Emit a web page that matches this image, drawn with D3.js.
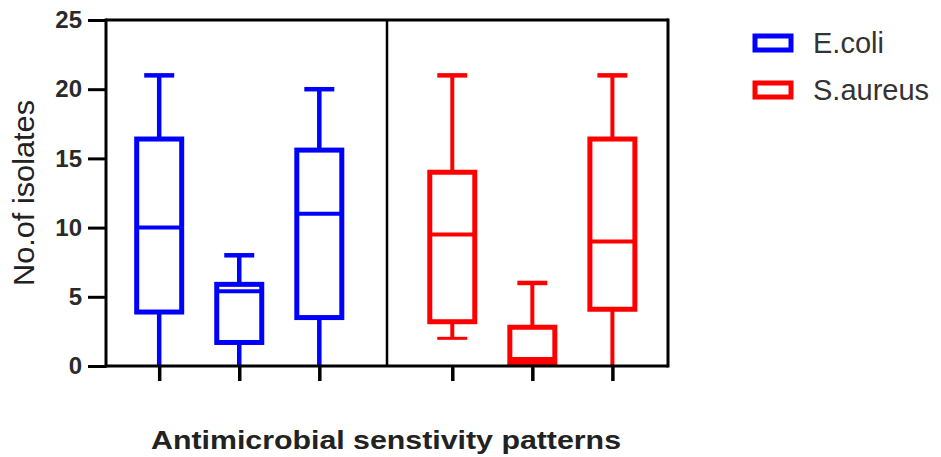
<!DOCTYPE html>
<html>
<head>
<meta charset="utf-8">
<script src="https://cdn.jsdelivr.net/npm/d3@7"></script>
<style>
  body { margin: 0; background: #fff; }
  svg { display: block; font-family: Arial, "Liberation Sans", sans-serif; }
</style>
</head>
<body>
<div id="chart"></div>
<script>
// categories (no labels shown on the x axis in the original)
const categories = ["Sensitive", "Intermediate", "Resistant"];
const organisms = ["E.coli", "S.aureus"];
const colors = ["#0000ff", "#ff0000"];

// box statistics
const ecoliMin = [0, 0, 0];
const ecoliQ1 = [3.9, 1.7, 3.5];
const ecoliMedian = [10, 5.4, 11];
const ecoliQ3 = [16.4, 5.9, 15.6];
const ecoliMax = [21, 8, 20];

const saureusMin = [2, 0, 0];
const saureusQ1 = [3.2, 0.2, 4.1];
const saureusMedian = [9.5, 0.5, 9];
const saureusQ3 = [14, 2.8, 16.4];
const saureusMax = [21, 6, 21];

const yTicks = [0, 5, 10, 15, 20, 25];

const width = 941, height = 457;
const margin = {left: 106, right: 273, top: 20, bottom: 91};
const plotW = width - margin.left - margin.right;
const plotH = height - margin.top - margin.bottom;

const svg = d3.select("#chart").append("svg")
  .attr("width", width)
  .attr("height", height);

const y = d3.scaleLinear().domain([0, 25]).range([margin.top + plotH, margin.top]);

// two panels, one per organism
const panel = d3.scaleBand().domain(organisms).range([margin.left, margin.left + plotW]);
const aligns = [0.44, 0.54];

const series = [
  {name: "E.coli", min: ecoliMin, q1: ecoliQ1, med: ecoliMedian, q3: ecoliQ3, max: ecoliMax},
  {name: "S.aureus", min: saureusMin, q1: saureusQ1, med: saureusMedian, q3: saureusQ3, max: saureusMax}
];

const boxW = 45, capW = 30;

// y axis
const yAxis = svg.append("g")
  .attr("transform", `translate(${margin.left},0)`)
  .call(d3.axisLeft(y).tickValues(yTicks).tickSize(18).tickPadding(6));
yAxis.select(".domain").remove();
yAxis.selectAll(".tick line").attr("stroke", "#000").attr("stroke-width", 3);
yAxis.selectAll(".tick text")
  .attr("font-size", 24)
  .attr("font-weight", "bold")
  .attr("fill", "#2a2a2a")
  .attr("font-family", "Arial, 'Liberation Sans', sans-serif");

series.forEach((s, si) => {
  const x0 = panel(s.name);
  const x = d3.scalePoint().domain(categories)
    .range([x0, x0 + panel.bandwidth()])
    .padding(0.755).align(aligns[si]);
  const col = colors[si];

  // x ticks below the axis
  const xAxis = svg.append("g")
    .attr("transform", `translate(0,${margin.top + plotH})`)
    .call(d3.axisBottom(x).tickSize(15).tickFormat(""));
  xAxis.select(".domain").remove();
  xAxis.selectAll(".tick line").attr("stroke", "#000").attr("stroke-width", 3.5);

  const g = svg.append("g");
  const rows = categories.map((c, i) => ({c, min: s.min[i], q1: s.q1[i], med: s.med[i], q3: s.q3[i], max: s.max[i]}));
  const b = g.selectAll("g.box").data(rows).enter().append("g").attr("class", "box");

  // whiskers
  b.append("line")
    .attr("x1", d => x(d.c)).attr("x2", d => x(d.c))
    .attr("y1", d => y(d.max)).attr("y2", d => y(d.q3))
    .attr("stroke", col).attr("stroke-width", si === 0 ? 4.5 : 4);
  b.append("line")
    .attr("x1", d => x(d.c)).attr("x2", d => x(d.c))
    .attr("y1", d => y(d.q1)).attr("y2", d => y(d.min))
    .attr("stroke", col).attr("stroke-width", si === 0 ? 4.5 : 4);
  // caps
  b.append("line")
    .attr("x1", d => x(d.c) - capW / 2).attr("x2", d => x(d.c) + capW / 2)
    .attr("y1", d => y(d.max)).attr("y2", d => y(d.max))
    .attr("stroke", col).attr("stroke-width", 4.5);
  b.filter(d => d.min > 0).append("line")
    .attr("x1", d => x(d.c) - capW / 2).attr("x2", d => x(d.c) + capW / 2)
    .attr("y1", d => y(d.min)).attr("y2", d => y(d.min))
    .attr("stroke", col).attr("stroke-width", 3);
  // box
  b.append("rect")
    .attr("x", d => x(d.c) - boxW / 2)
    .attr("width", boxW)
    .attr("y", d => y(d.q3))
    .attr("height", d => y(d.q1) - y(d.q3))
    .attr("fill", "#fff")
    .attr("stroke", col).attr("stroke-width", 5);
  // median
  b.append("line")
    .attr("x1", d => x(d.c) - boxW / 2).attr("x2", d => x(d.c) + boxW / 2)
    .attr("y1", d => y(d.med)).attr("y2", d => y(d.med))
    .attr("stroke", col).attr("stroke-width", 4);
});

// frame and panel divider
const frame = svg.append("g").attr("fill", "none").attr("stroke", "#000");
frame.append("line")
  .attr("x1", margin.left).attr("x2", margin.left)
  .attr("y1", y(25) - 1.5).attr("y2", y(0) + 1.5).attr("stroke-width", 3);
frame.append("line")
  .attr("x1", margin.left).attr("x2", margin.left + plotW)
  .attr("y1", y(0)).attr("y2", y(0)).attr("stroke-width", 3);
frame.append("line")
  .attr("x1", margin.left).attr("x2", margin.left + plotW)
  .attr("y1", y(25)).attr("y2", y(25)).attr("stroke-width", 3);
frame.append("line")
  .attr("x1", margin.left + plotW).attr("x2", margin.left + plotW)
  .attr("y1", y(25) - 1.5).attr("y2", y(0) + 1.5).attr("stroke-width", 3);
frame.append("line")
  .attr("x1", panel("S.aureus")).attr("x2", panel("S.aureus"))
  .attr("y1", y(25)).attr("y2", y(0)).attr("stroke-width", 2.5);

// axis titles
svg.append("text")
  .attr("transform", `translate(34,${(y(0) + y(25)) / 2 + 0}) rotate(-90)`)
  .attr("text-anchor", "middle")
  .attr("font-size", 29)
  .attr("fill", "#222")
  .attr("textLength", 186)
  .attr("lengthAdjust", "spacingAndGlyphs")
  .text("No.of isolates");

svg.append("text")
  .attr("x", 386).attr("y", 449)
  .attr("text-anchor", "middle")
  .attr("font-size", 26)
  .attr("font-weight", "bold")
  .attr("fill", "#222")
  .attr("textLength", 470)
  .attr("lengthAdjust", "spacingAndGlyphs")
  .text("Antimicrobial senstivity patterns");

// legend
const legend = svg.append("g").selectAll("g").data(organisms).enter().append("g")
  .attr("transform", (d, i) => `translate(755,${36 + i * 47})`);
legend.append("rect")
  .attr("width", 36).attr("height", 14)
  .attr("fill", "#fff")
  .attr("stroke", (d, i) => colors[i]).attr("stroke-width", 5);
legend.append("text")
  .attr("x", 58).attr("y", 17)
  .attr("font-size", 29)
  .attr("fill", "#333")
  .text(d => d);
</script>
</body>
</html>
